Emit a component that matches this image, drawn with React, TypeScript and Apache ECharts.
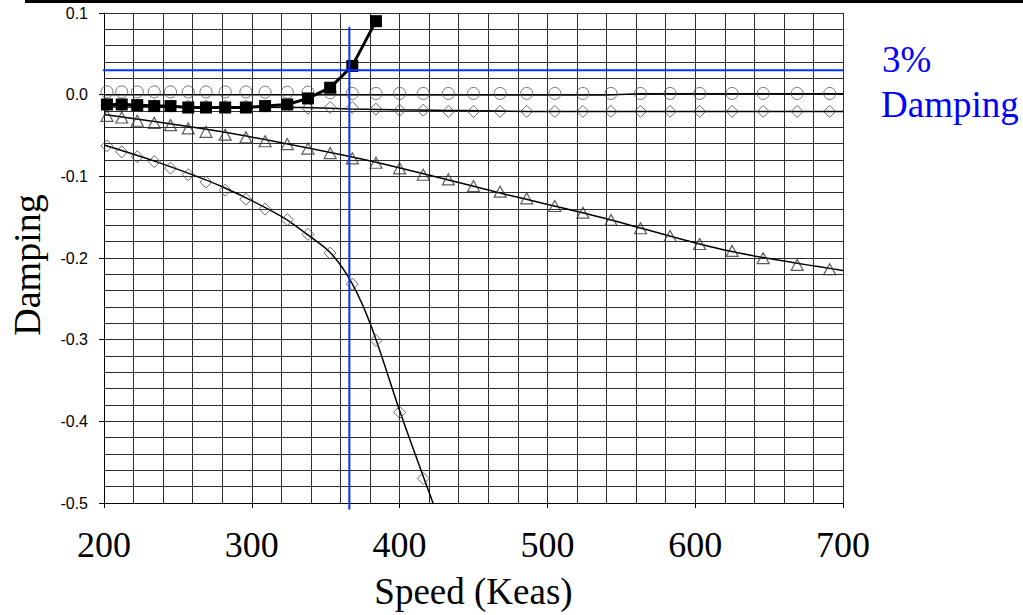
import React, { useEffect, useRef } from "react";
import * as echarts from "echarts";

// Speeds (Keas) at which the modes were evaluated
const speeds = [202, 212, 222.5, 234, 245, 257, 269, 282, 296, 309, 324, 338, 353, 368, 384, 400, 416, 433, 450, 468, 486, 505, 524, 543, 563, 583, 603, 625, 646, 669, 691];

// Mode with circles (near zero)
const circleDamping = [0.0034, 0.0034, 0.0034, 0.0034, 0.0034, 0.0034, 0.0034, 0.0034, 0.0034, 0.003, 0.003, 0.003, 0.0025, 0.0015, 0.0015, 0.0015, 0.0015, 0.0015, 0.0015, 0.0015, 0.0015, 0.0015, 0.0015, 0.0015, 0.0015, 0.0015, 0.0015, 0.0015, 0.0015, 0.0015, 0.0015];
const circleFit: [number, number][] = [[200, 0.0], [540, -0.0005], [563, 0.0012], [700, 0.0012]];

// Mode with upper diamonds (about -0.02)
const upperDiamondDamping = [-0.013, -0.013, -0.013, -0.0135, -0.014, -0.014, -0.014, -0.014, -0.014, -0.014, -0.014, -0.0165, -0.0157, -0.0157, -0.0177, -0.019, -0.019, -0.0205, -0.0205, -0.0205, -0.0205, -0.0205, -0.0205, -0.0205, -0.0205, -0.0205, -0.0205, -0.0205, -0.0205, -0.0205, -0.0205];
const upperDiamondFit: [number, number][] = [[200, -0.015], [334, -0.0157], [367, -0.0177], [423, -0.019], [500, -0.0205], [700, -0.0205]];

// Mode with triangles
const triangleDamping = [-0.0259, -0.0279, -0.032, -0.0345, -0.0373, -0.0413, -0.0455, -0.049, -0.0523, -0.057, -0.0605, -0.066, -0.0715, -0.078, -0.0834, -0.0902, -0.098, -0.1037, -0.1119, -0.1188, -0.1269, -0.1363, -0.1445, -0.1534, -0.1636, -0.173, -0.1828, -0.1913, -0.2002, -0.2084, -0.2137];
const triangleFit: [number, number][] = [[200, -0.0242], [280, -0.0455], [367, -0.076], [401, -0.09], [475, -0.1235], [536, -0.15], [619, -0.19], [700, -0.2154]];

// Mode with lower diamonds (unstable trend downward)
const lowerDiamondSpeeds = [202, 212, 222.5, 234, 245, 257, 269, 282, 296, 309, 324, 338, 353, 368, 384, 400, 416];
const lowerDiamondDamping = [-0.0626, -0.07, -0.076, -0.082, -0.09, -0.098, -0.107, -0.117, -0.128, -0.14, -0.153, -0.171, -0.194, -0.232, -0.301, -0.389, -0.47];
const lowerDiamondFit: [number, number][] = [[200, -0.0617], [240, -0.085], [280, -0.1127], [320, -0.149], [338, -0.1718], [354, -0.195], [368, -0.2317], [381, -0.2846], [401, -0.392], [423, -0.502]];

// Flutter mode (filled squares)
const squareSpeeds = [202, 212, 222.5, 234, 245, 257, 269, 282, 296, 309, 324, 338, 353, 368, 384];
const squareDamping = [-0.012, -0.012, -0.0128, -0.014, -0.014, -0.0157, -0.0157, -0.0157, -0.0157, -0.014, -0.012, -0.0046, 0.0085, 0.0352, 0.09];

// 3% damping reference lines
const dampingLimit = 0.03;
const flutterSpeed = 366;
const hLineSpeeds = [193.5, 727];
const vLineDamping = [0.0833, -0.508];

const xTicks = { min: 200, max: 700, interval: 100 };
const yTicks = { min: -0.5, max: 0.1, interval: 0.1 };

const zip = (xs: number[], ys: number[]) => xs.map((x, i) => [x, ys[i]]);

export default function App() {
  const ref = useRef<HTMLDivElement>(null);
  useEffect(() => {
    document.body.style.margin = "0";
    const chart = echarts.init(ref.current!, null, { renderer: "svg" });
    const gridLine = { show: true, lineStyle: { color: "#2e2e2e", width: 1 } };
    const blue = "#0033ff";
    chart.setOption({
      animation: false,
      backgroundColor: "#ffffff",
      grid: { left: 102, top: 13, width: 741, height: 491, containLabel: false },
      xAxis: {
        type: "value",
        min: xTicks.min,
        max: xTicks.max,
        interval: xTicks.interval,
        name: "Speed (Keas)",
        nameLocation: "middle",
        nameGap: 70,
        nameTextStyle: { fontFamily: "Liberation Serif", fontSize: 37, color: "#000" },
        axisLine: { show: true, onZero: false, lineStyle: { color: "#000", width: 1 } },
        axisTick: { show: true, inside: false, length: 5, lineStyle: { color: "#000" } },
        axisLabel: { margin: 24, fontFamily: "Liberation Serif", fontSize: 36, color: "#000", formatter: (v: number) => String(Math.round(v)) },
        splitLine: gridLine,
        minorTick: { show: false, splitNumber: 5 },
        minorSplitLine: gridLine,
      },
      yAxis: {
        type: "value",
        min: yTicks.min,
        max: yTicks.max,
        interval: yTicks.interval,
        name: "Damping",
        nameLocation: "middle",
        nameGap: 58,
        nameRotate: 90,
        nameTextStyle: { fontFamily: "Liberation Serif", fontSize: 38, color: "#000", padding: [0, 14, 0, 0] },
        axisLine: { show: true, onZero: false, lineStyle: { color: "#000", width: 1 } },
        axisTick: { show: true, inside: false, length: 5, lineStyle: { color: "#000" } },
        axisLabel: { margin: 16, fontFamily: "Liberation Sans", fontSize: 16, color: "#000", formatter: (v: number) => v.toFixed(1) },
        splitLine: gridLine,
        minorTick: { show: false, splitNumber: 5 },
        minorSplitLine: gridLine,
      },
      graphic: [
        { type: "rect", shape: { x: 25, y: 0, width: 998, height: 3 }, style: { fill: "#000" } },
        { type: "text", x: 882, y: 59, style: { text: "3%", fontFamily: "Liberation Serif", fontSize: 37, fill: "#0000ff", textVerticalAlign: "middle", verticalAlign: "middle" } },
        { type: "text", x: 881, y: 104, style: { text: "Damping", fontFamily: "Liberation Serif", fontSize: 37, fill: "#0000ff", textVerticalAlign: "middle", verticalAlign: "middle" } },
      ],
      series: [
        { type: "line", data: circleFit, showSymbol: false, symbol: "none", smooth: false, lineStyle: { color: "#000", width: 1.5 }, z: 3 },
        { type: "line", data: upperDiamondFit, showSymbol: false, symbol: "none", smooth: 0.3, lineStyle: { color: "#000", width: 1.5 }, z: 3 },
        { type: "line", data: triangleFit, showSymbol: false, symbol: "none", smooth: 0.3, lineStyle: { color: "#000", width: 1.5 }, z: 3 },
        { type: "line", data: lowerDiamondFit, showSymbol: false, symbol: "none", smooth: 0.3, lineStyle: { color: "#000", width: 1.5 }, z: 3 },
        { type: "scatter", data: zip(speeds, circleDamping), symbol: "circle", symbolSize: 12, itemStyle: { color: "transparent", borderColor: "#555", borderWidth: 1 }, z: 4 },
        { type: "scatter", data: zip(speeds, upperDiamondDamping), symbol: "diamond", symbolSize: 12, itemStyle: { color: "transparent", borderColor: "#444", borderWidth: 1 }, z: 4 },
        { type: "scatter", data: zip(speeds, triangleDamping), symbol: "triangle", symbolSize: [12, 11], itemStyle: { color: "transparent", borderColor: "#333", borderWidth: 1.2 }, z: 4 },
        { type: "scatter", data: zip(lowerDiamondSpeeds, lowerDiamondDamping), symbol: "diamond", symbolSize: 12, itemStyle: { color: "transparent", borderColor: "#444", borderWidth: 1 }, z: 4 },
        { type: "line", data: zip(squareSpeeds, squareDamping), symbol: "rect", symbolSize: 12, showSymbol: true, itemStyle: { color: "#000" }, lineStyle: { color: "#000", width: 3 }, z: 5 },
        { type: "line", data: zip(hLineSpeeds, [dampingLimit, dampingLimit]), symbol: "none", clip: false, lineStyle: { color: blue, width: 2 }, z: 6 },
        { type: "line", data: zip([flutterSpeed, flutterSpeed], vLineDamping), symbol: "none", clip: false, lineStyle: { color: blue, width: 2 }, z: 6 },
      ],
    });
    return () => chart.dispose();
  }, []);
  return <div ref={ref} style={{ width: 1023, height: 615 }} />;
}
